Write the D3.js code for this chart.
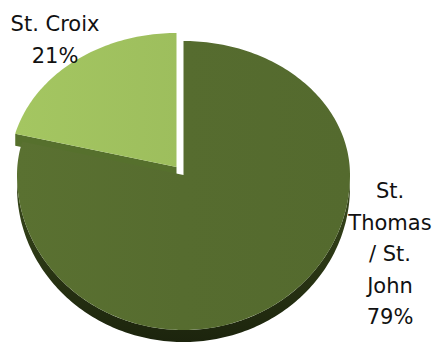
<!DOCTYPE html>
<html>
<head>
<meta charset="utf-8">
<script src="https://cdn.jsdelivr.net/npm/d3@7"></script>
<style>
  html, body { margin: 0; padding: 0; background: #fff; }
  svg { display: block; }
</style>
</head>
<body>
<svg id="chart" width="435" height="345"></svg>
<script>
const categories = ["St. Thomas / St. John", "St. Croix"];
const values = [79, 21];
const labelLines = [["St.", "Thomas", "/ St.", "John", "79%"], ["St. Croix", "21%"]];
const colors = ["#566c2f", "#9dbe5d"];
const sideColors = ["#2c3815", "#56702d"];

const svg = d3.select("#chart");
const cx = 183.5, cy = 175, rx = 166.5, ryBack = 134, ryFront = 155, depth = 12;
const explode = [[0, 0], [-7, -8]];

const pie = d3.pie().sort(null).value(d => d)(values);

function P(a, o, dz) {
  const c = Math.cos(a);
  const ry = c > 0 ? ryBack : ryFront;
  return [cx + o[0] + rx * Math.sin(a), cy + o[1] - ry * c + (dz || 0)];
}
function arcTo(path, a0, a1, o, dz) {
  const n = Math.max(2, Math.ceil(Math.abs(a1 - a0) / 0.02));
  for (let i = 1; i <= n; i++) {
    const p = P(a0 + (a1 - a0) * i / n, o, dz);
    path.lineTo(p[0], p[1]);
  }
}

const defs = svg.append("defs");
const rimGrad = defs.append("linearGradient").attr("id", "rim").attr("x1", 0).attr("y1", 0).attr("x2", 0).attr("y2", 1);
rimGrad.append("stop").attr("offset", "0%").attr("stop-color", "#3a4a1c");
rimGrad.append("stop").attr("offset", "100%").attr("stop-color", "#1c240d");

const topGrads = colors.map((c, i) => {
  const g = defs.append("linearGradient").attr("id", "top" + i)
    .attr("gradientUnits", "userSpaceOnUse")
    .attr("x1", cx - rx).attr("y1", cy).attr("x2", cx + rx).attr("y2", cy);
  g.append("stop").attr("offset", "0%").attr("stop-color", d3.color(c).brighter(0.12));
  g.append("stop").attr("offset", "50%").attr("stop-color", c);
  g.append("stop").attr("offset", "100%").attr("stop-color", d3.color(c).darker(0.05));
  return "url(#top" + i + ")";
});

// radial side face of exploded slice (visible facing front)
pie.forEach((d, i) => {
  if (i !== 1) return;
  const o = explode[i];
  const a = d.startAngle;
  const v = [cx + o[0], cy + o[1]];
  const p = P(a, o);
  const path = d3.path();
  path.moveTo(v[0], v[1]);
  path.lineTo(p[0], p[1]);
  path.lineTo(p[0], p[1] + depth);
  path.lineTo(v[0], v[1] + depth);
  path.closePath();
  svg.append("path").attr("d", path.toString()).attr("fill", sideColors[i]);
});

// outer rims (front half only)
pie.forEach((d, i) => {
  const o = explode[i];
  const a0 = Math.max(d.startAngle, Math.PI / 2);
  const a1 = Math.min(d.endAngle, 3 * Math.PI / 2);
  if (a1 <= a0) return;
  const path = d3.path();
  const s = P(a0, o);
  path.moveTo(s[0], s[1]);
  arcTo(path, a0, a1, o, 0);
  const e = P(a1, o, depth);
  path.lineTo(e[0], e[1]);
  arcTo(path, a1, a0, o, depth);
  path.closePath();
  svg.append("path").attr("d", path.toString()).attr("fill", "url(#rim)");
});

// top surfaces
pie.forEach((d, i) => {
  const o = explode[i];
  const v = [cx + o[0], cy + o[1]];
  const path = d3.path();
  path.moveTo(v[0], v[1]);
  const s = P(d.startAngle, o);
  path.lineTo(s[0], s[1]);
  arcTo(path, d.startAngle, d.endAngle, o, 0);
  path.closePath();
  svg.append("path").attr("d", path.toString()).attr("fill", topGrads[i]);
});

// labels
const labelPos = [{ x: 390, y: 198 }, { x: 55, y: 31 }];
const lineH = 31.5;
labelLines.forEach((lines, i) => {
  const t = svg.append("text")
    .attr("text-anchor", "middle")
    .attr("font-family", "'DejaVu Sans', Verdana, sans-serif")
    .attr("font-size", 21)
    .attr("fill", "#111");
  lines.forEach((ln, j) => {
    t.append("tspan").attr("x", labelPos[i].x).attr("y", labelPos[i].y + j * lineH).text(ln);
  });
});
</script>
</body>
</html>
